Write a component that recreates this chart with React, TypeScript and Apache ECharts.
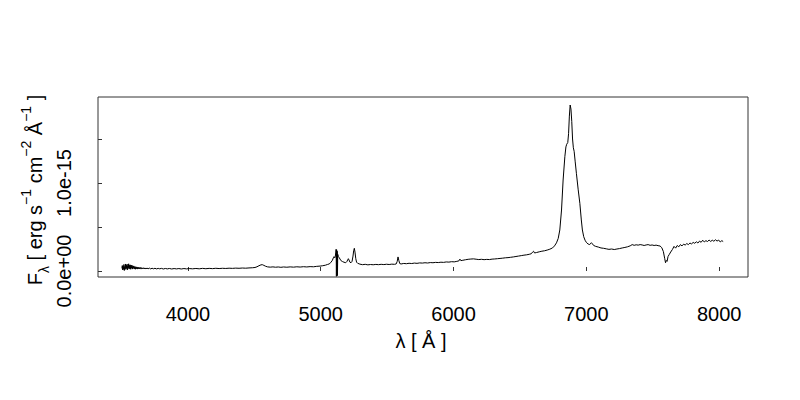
import React, { useEffect, useRef } from "react";
import * as echarts from "echarts";

// Spectrum: [wavelength (Å), flux (units of 1e-15 erg s^-1 cm^-2 Å^-1)]
const segBlue: number[][] = [
  [3503,0.030],[3506,0.062],[3509,0.012],[3512,0.055],[3515,0.020],[3518,0.074],[3521,0.006],[3524,0.050],
  [3527,0.028],[3530,0.080],[3533,0.018],[3536,0.066],[3539,0.030],[3542,0.078],[3545,0.014],[3548,0.058],
  [3551,0.036],[3554,0.082],[3557,0.022],[3560,0.064],[3563,0.030],[3566,0.070],[3569,0.020],[3572,0.060],
  [3575,0.034],[3578,0.068],[3581,0.022],[3584,0.054],[3588,0.030],[3592,0.058],[3596,0.024],[3600,0.050],
  [3604,0.020],[3608,0.048],[3612,0.026],[3616,0.046],[3620,0.022],[3624,0.044],[3628,0.026],[3632,0.042],
  [3637,0.024],[3642,0.040],[3647,0.022],[3652,0.038],[3658,0.024],[3664,0.037],[3670,0.023],[3676,0.035],
  [3684,0.024],[3692,0.034],[3700,0.025],[3710,0.033],[3720,0.024],[3730,0.032],[3740,0.025],
  [3752,0.031],[3764,0.024],[3776,0.030],[3788,0.025],[3800,0.030],[3815,0.023],[3830,0.029],[3845,0.024],
  [3860,0.029],[3878,0.023],[3896,0.028],[3914,0.024],[3932,0.028],[3950,0.023],[3970,0.028],[3990,0.024],
  [4010,0.028],[4035,0.025],[4060,0.029],[4085,0.025],[4110,0.030],[4135,0.026],[4160,0.030],[4185,0.027],
  [4210,0.031],[4235,0.028],[4260,0.031],[4285,0.029],[4310,0.032],[4335,0.030],[4360,0.033],[4385,0.031],
  [4410,0.034],[4435,0.032],[4460,0.035],[4485,0.037],
];

const segHgamma: number[][] = [
  [4505,0.040],[4520,0.048],[4535,0.060],[4550,0.070],[4560,0.072],[4572,0.064],[4585,0.054],[4600,0.047],
  [4620,0.044],[4640,0.047],[4660,0.043],[4680,0.046],[4700,0.042],[4720,0.046],[4745,0.043],[4770,0.047],
  [4795,0.044],[4820,0.048],[4845,0.045],[4870,0.049],[4895,0.046],[4920,0.050],[4945,0.048],[4970,0.053],
  [4995,0.056],
];

const segHbetaOIII: number[][] = [
  [5015,0.060],[5035,0.066],[5050,0.074],[5063,0.080],[5075,0.095],[5088,0.122],[5095,0.150],[5100,0.163],
  [5106,0.150],[5110,0.170],[5114,0.215],[5116,0.247],[5118,-0.060],[5120,0.240],[5122,-0.055],[5124,0.225],
  [5126,-0.050],[5128,0.190],[5133,0.163],[5140,0.150],[5151,0.120],[5163,0.108],[5175,0.100],[5188,0.094],
  [5198,0.110],[5204,0.130],[5208,0.140],[5213,0.125],[5220,0.100],[5228,0.094],[5236,0.110],[5243,0.170],
  [5248,0.230],[5253,0.258],[5258,0.215],[5264,0.140],[5270,0.100],[5278,0.088],
];

const segMiddle: number[][] = [
  [5295,0.078],[5315,0.072],[5335,0.076],[5355,0.070],[5375,0.074],[5395,0.071],[5415,0.075],[5435,0.072],
  [5455,0.076],[5475,0.073],[5495,0.077],[5515,0.074],[5535,0.078],[5555,0.076],[5568,0.080],[5576,0.110],
  [5582,0.160],[5588,0.120],[5595,0.085],[5605,0.080],[5625,0.086],[5645,0.083],[5665,0.088],[5685,0.085],
  [5705,0.090],[5725,0.087],[5745,0.092],[5765,0.090],[5785,0.094],[5805,0.091],[5825,0.096],[5845,0.094],
  [5865,0.098],[5885,0.096],[5905,0.100],[5925,0.098],[5945,0.103],[5965,0.101],[5985,0.106],[6005,0.104],
  [6025,0.110],[6040,0.115],[6048,0.135],[6055,0.118],[6070,0.122],[6090,0.128],[6110,0.133],[6130,0.136],
  [6150,0.138],[6170,0.134],[6190,0.130],[6210,0.133],[6230,0.129],[6250,0.132],[6270,0.130],[6290,0.135],
  [6310,0.137],[6330,0.140],[6350,0.143],[6370,0.146],[6390,0.150],[6410,0.152],[6430,0.156],[6450,0.160],
  [6470,0.165],[6490,0.170],[6510,0.175],[6530,0.180],[6550,0.184],[6570,0.190],[6585,0.196],[6595,0.215],
  [6602,0.225],[6610,0.205],[6625,0.210],[6645,0.218],[6665,0.225],[6685,0.230],[6705,0.238],[6725,0.248],
  [6745,0.262],[6760,0.285],
];

const segHalpha: number[][] = [
  [6775,0.320],[6788,0.370],[6800,0.466],[6813,0.693],[6825,1.034],[6838,1.299],[6846,1.410],[6852,1.440],
  [6860,1.460],[6866,1.560],[6872,1.760],[6878,1.886],[6884,1.840],[6890,1.700],[6896,1.500],[6902,1.400],
  [6908,1.360],[6916,1.240],[6925,1.110],[6938,0.930],[6951,0.769],[6962,0.580],[6970,0.466],[6980,0.390],
  [6990,0.350],[7000,0.325],[7013,0.307],[7025,0.300],[7038,0.322],[7045,0.310],[7055,0.290],[7070,0.280],
];

const segRed: number[][] = [
  [7090,0.272],[7110,0.262],[7130,0.258],[7150,0.252],[7170,0.246],[7190,0.250],[7210,0.244],[7230,0.250],
  [7250,0.255],[7270,0.262],[7290,0.268],[7310,0.275],[7330,0.286],[7345,0.300],[7360,0.292],[7375,0.298],
  [7390,0.294],[7405,0.300],[7420,0.296],[7435,0.290],[7450,0.296],[7465,0.300],[7480,0.292],[7495,0.296],
  [7510,0.290],[7525,0.294],[7540,0.288],[7555,0.284],[7568,0.265],[7580,0.220],[7590,0.140],[7596,0.094],
  [7602,0.120],[7608,0.110],[7615,0.165],[7625,0.190],[7635,0.216],[7648,0.245],[7660,0.280],[7672,0.260],
  [7684,0.290],[7696,0.275],[7708,0.300],[7720,0.285],[7732,0.305],[7744,0.295],[7756,0.312],[7768,0.300],
  [7780,0.318],[7792,0.308],[7804,0.325],[7816,0.315],[7828,0.332],[7840,0.318],[7852,0.340],[7864,0.326],
  [7876,0.350],[7888,0.330],[7900,0.345],[7912,0.335],[7924,0.352],[7936,0.336],[7948,0.350],[7960,0.338],
  [7972,0.355],[7984,0.340],[7996,0.352],[8008,0.330],[8020,0.345],[8030,0.335],
];

const xTicks = [4000, 5000, 6000, 7000, 8000];
const yTicks = [0, 0.5, 1.0, 1.5];
const yTickLabels = [0, 1.0];
const FONT = "Liberation Sans, Arial, Helvetica, sans-serif";

function sci(v: number): string {
  const x = v * 1e-15;
  if (Math.abs(x) < 1e-30) return "0.0e+00";
  const e = Math.floor(Math.log10(Math.abs(x)) + 1e-9);
  const m = x / Math.pow(10, e);
  const es = String(Math.abs(e)).padStart(2, "0");
  return m.toFixed(1) + "e" + (e < 0 ? "-" : "+") + es;
}

export default function App() {
  const ref = useRef<HTMLDivElement>(null);
  useEffect(() => {
    if (!ref.current) return;
    const chart = echarts.init(ref.current, undefined, { renderer: "svg" });
    const data = [...segBlue, ...segHgamma, ...segHbetaOIII, ...segMiddle, ...segHalpha, ...segRed];
    const main = { fontSize: 20, fontFamily: FONT, fill: "#000", color: "#000", lineHeight: 32, verticalAlign: "middle" };
    const sup = { fontSize: 14, fontFamily: FONT, fill: "#000", color: "#000", lineHeight: 14, verticalAlign: "top" };
    const sub = { fontSize: 14, fontFamily: FONT, fill: "#000", color: "#000", lineHeight: 14, verticalAlign: "bottom" };
    chart.setOption({
      animation: false,
      backgroundColor: "#fff",
      grid: {
        left: 98, top: 97, right: 52, bottom: 123,
        show: true, borderColor: "#333", borderWidth: 1, backgroundColor: "transparent",
      },
      xAxis: {
        type: "value",
        min: 3323, max: 8217,
        axisLine: { show: false },
        splitLine: { show: false },
        axisTick: { show: true, inside: true, length: 4, customValues: xTicks, lineStyle: { color: "#333" } },
        axisLabel: {
          customValues: xTicks, margin: 27, color: "#000", fontSize: 20, fontFamily: FONT,
          formatter: (v: number) => String(v),
        },
      },
      yAxis: {
        type: "value",
        min: -0.068, max: 1.977,
        axisLine: { show: false },
        splitLine: { show: false },
        axisTick: { show: true, inside: true, length: 4, customValues: yTicks, lineStyle: { color: "#333" } },
        axisLabel: {
          customValues: yTickLabels, rotate: 90, margin: 24, color: "#000", fontSize: 20, fontFamily: FONT,
          formatter: (v: number) => sci(v),
        },
      },
      graphic: [
        {
          type: "text", x: 421, y: 341,
          style: { text: "λ [ Å ]", fontSize: 20, fontFamily: FONT, fill: "#000", align: "center", verticalAlign: "middle" },
        },
        {
          type: "text", x: 35, y: 190, rotation: Math.PI / 2,
          style: {
            text: "{n|F}{b|λ}{n| [ erg s}{p|−1}{n| cm}{p|−2}{n| Å}{p|−1}{n| ]}",
            rich: { n: main, p: sup, b: sub },
            align: "center", verticalAlign: "middle", fill: "#000",
          },
        },
      ],
      series: [
        {
          type: "line",
          data,
          showSymbol: false,
          symbol: "none",
          lineStyle: { color: "#000", width: 1 },
          clip: true,
        },
      ],
    });
    return () => chart.dispose();
  }, []);
  return <div ref={ref} style={{ width: 800, height: 400, position: "absolute", left: 0, top: 0 }} />;
}
